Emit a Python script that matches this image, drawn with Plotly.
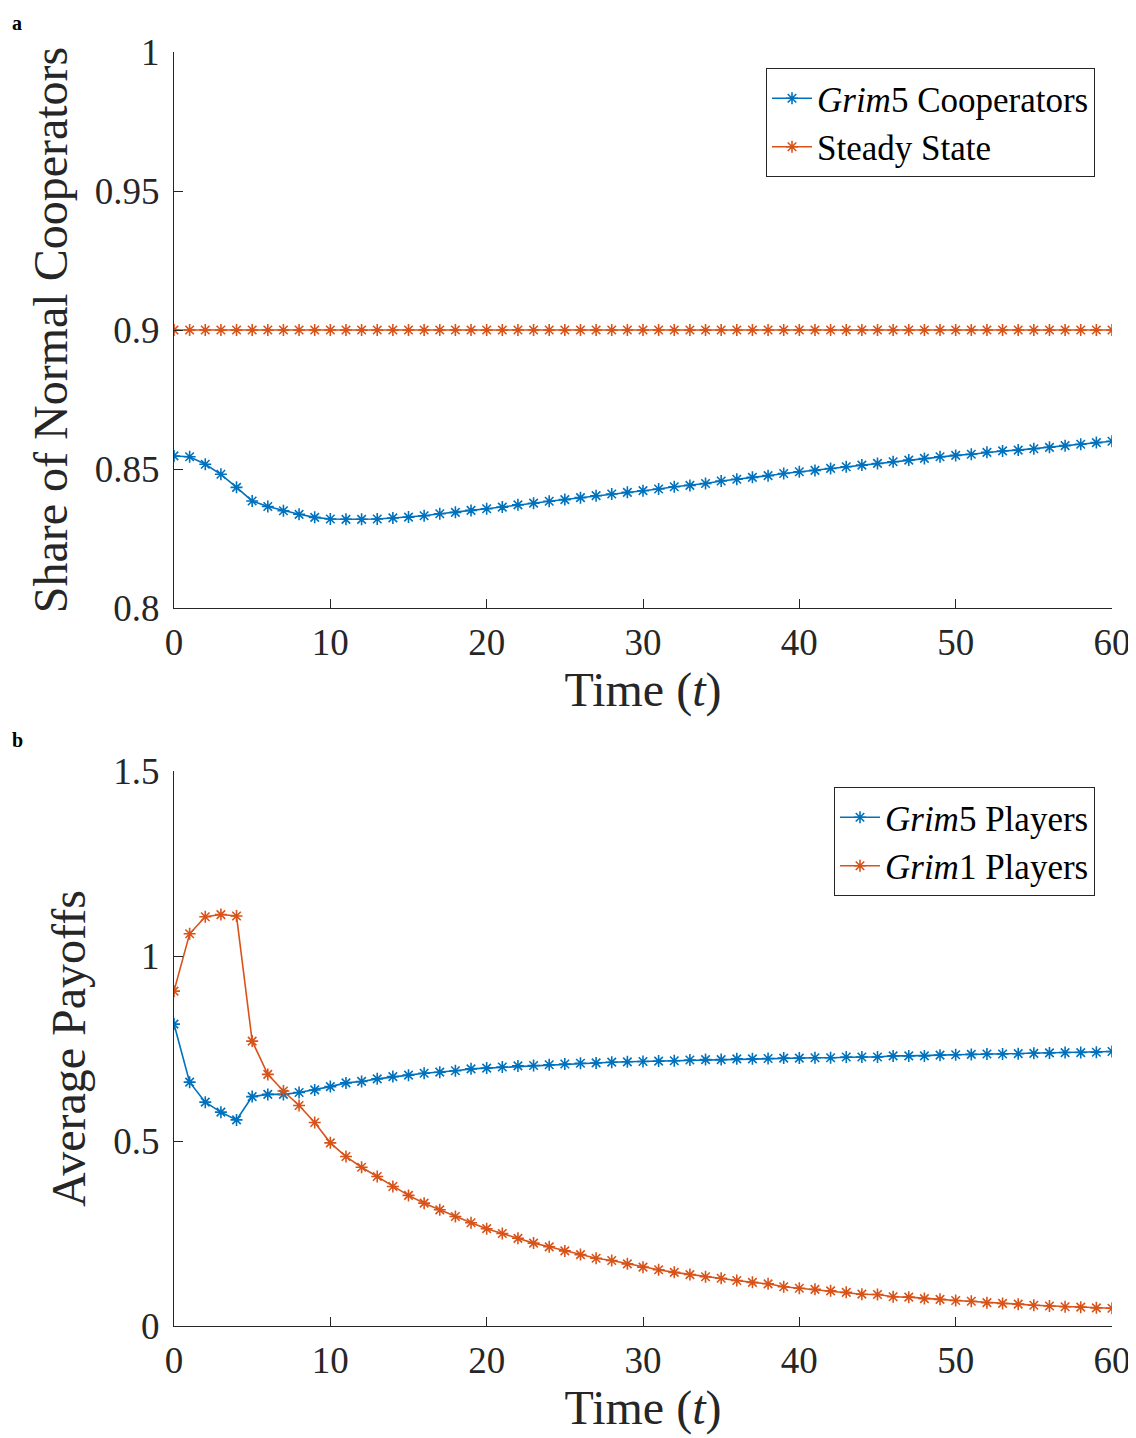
import plotly.graph_objects as go

t = list(range(61))

grim5_coop = [0.8547, 0.8544, 0.8517, 0.8481, 0.8434, 0.8385, 0.8365, 0.8350, 0.8337, 0.8326,
              0.8320, 0.8319, 0.8319, 0.8320, 0.8324, 0.8327, 0.8332, 0.8339, 0.8344, 0.8351,
              0.8357, 0.8363, 0.8371, 0.8377, 0.8384, 0.8390, 0.8397, 0.8404, 0.8410, 0.8416,
              0.8422, 0.8428, 0.8436, 0.8441, 0.8448, 0.8457, 0.8463, 0.8470, 0.8476, 0.8484,
              0.8490, 0.8495, 0.8502, 0.8508, 0.8514, 0.8520, 0.8526, 0.8532, 0.8538, 0.8544,
              0.8549, 0.8553, 0.8560, 0.8565, 0.8568, 0.8573, 0.8578, 0.8584, 0.8589, 0.8595,
              0.8600]
steady_state = [0.9] * 61

grim5_pay = [0.816, 0.659, 0.605, 0.578, 0.557, 0.620, 0.626, 0.626, 0.631, 0.638,
             0.647, 0.657, 0.661, 0.668, 0.674, 0.678, 0.683, 0.686, 0.690, 0.695,
             0.697, 0.700, 0.703, 0.704, 0.706, 0.708, 0.710, 0.711, 0.713, 0.714,
             0.715, 0.716, 0.717, 0.719, 0.720, 0.720, 0.722, 0.722, 0.723, 0.724,
             0.724, 0.725, 0.725, 0.727, 0.727, 0.727, 0.730, 0.730, 0.730, 0.732,
             0.733, 0.734, 0.735, 0.735, 0.736, 0.737, 0.738, 0.739, 0.739, 0.740,
             0.742]
grim1_pay = [0.905, 1.060, 1.106, 1.112, 1.108, 0.770, 0.680, 0.635, 0.596, 0.550,
             0.495, 0.458, 0.429, 0.404, 0.377, 0.353, 0.332, 0.314, 0.296, 0.279,
             0.263, 0.250, 0.237, 0.224, 0.214, 0.203, 0.193, 0.183, 0.177, 0.168,
             0.159, 0.152, 0.145, 0.139, 0.133, 0.129, 0.123, 0.118, 0.114, 0.106,
             0.102, 0.099, 0.095, 0.091, 0.086, 0.085, 0.079, 0.078, 0.074, 0.072,
             0.069, 0.067, 0.063, 0.061, 0.059, 0.056, 0.054, 0.052, 0.051, 0.049,
             0.048]

x_ticks = [0, 10, 20, 30, 40, 50, 60]
top_ticks = [0.8, 0.85, 0.9, 0.95, 1.0]
top_tick_labels = ["0.8", "0.85", "0.9", "0.95", "1"]
bot_ticks = [0, 0.5, 1, 1.5]
bot_tick_labels = ["0", "0.5", "1", "1.5"]

BLUE = "#0072BD"
ORANGE = "#D95319"
FONT = "Liberation Serif"
AXC = "#262626"

def mk(color):
    return dict(symbol="asterisk-open", size=10, line=dict(color=color, width=1.6), color=color)

fig = go.Figure()
fig.add_trace(go.Scatter(x=t, y=grim5_coop, mode="lines+markers", name="<i>Grim</i>5 Cooperators",
                         line=dict(color=BLUE, width=1.6), marker=mk(BLUE), xaxis="x", yaxis="y", legend="legend"))
fig.add_trace(go.Scatter(x=t, y=steady_state, mode="lines+markers", name="Steady State",
                         line=dict(color=ORANGE, width=1.6), marker=mk(ORANGE), xaxis="x", yaxis="y", legend="legend"))
fig.add_trace(go.Scatter(x=t, y=grim5_pay, mode="lines+markers", name="<i>Grim</i>5 Players",
                         line=dict(color=BLUE, width=1.6), marker=mk(BLUE), xaxis="x2", yaxis="y2", legend="legend2"))
fig.add_trace(go.Scatter(x=t, y=grim1_pay, mode="lines+markers", name="<i>Grim</i>1 Players",
                         line=dict(color=ORANGE, width=1.6), marker=mk(ORANGE), xaxis="x2", yaxis="y2", legend="legend2"))

axis_common = dict(showline=True, linecolor=AXC, linewidth=1, ticks="inside", ticklen=9,
                   tickcolor=AXC, tickwidth=1, showgrid=False, zeroline=False, mirror=False,
                   automargin=False, tickfont=dict(family=FONT, size=37, color=AXC))
title_font = dict(family=FONT, size=48, color=AXC)

# page has an 8px body margin; figure is sized so the plot areas land at the reference pixels
OFF = 8
W, H = 1136 - OFF, 1438 - OFF
ML, MR, MT, MB = 174 - OFF, 24, 52 - OFF, 112
PH = H - MT - MB
PW = W - ML - MR

def py(ypix):
    return (1326 - ypix) / PH

def px(xpix):
    return (xpix - 174) / PW

fig.update_layout(
    width=W, height=H,
    margin=dict(l=ML, r=MR, t=MT, b=MB, autoexpand=False),
    plot_bgcolor="white", paper_bgcolor="white",
    font=dict(family=FONT, color=AXC),
    xaxis=dict(domain=[0, 1], range=[0, 60], tickvals=x_ticks, anchor="y", ticklabelstandoff=2,
               title=dict(text="Time (<i>t</i>)", font=title_font, standoff=4), **axis_common),
    yaxis=dict(domain=[py(608), 1], range=[0.8, 1.0], tickvals=top_ticks, ticktext=top_tick_labels,
               anchor="x", ticklabelstandoff=6,
               title=dict(text="Share of Normal Cooperators", font=title_font, standoff=12),
               **axis_common),
    xaxis2=dict(domain=[0, 1], range=[0, 60], tickvals=x_ticks, anchor="y2", ticklabelstandoff=2,
                title=dict(text="Time (<i>t</i>)", font=title_font, standoff=4), **axis_common),
    yaxis2=dict(domain=[0, py(771)], range=[0, 1.5], tickvals=bot_ticks, ticktext=bot_tick_labels,
                anchor="x2", ticklabelstandoff=6,
                title=dict(text="Average Payoffs", font=title_font, standoff=12),
                **axis_common),
    legend=dict(x=px(1095), y=py(68), xanchor="right", yanchor="top",
                bordercolor=AXC, borderwidth=1, bgcolor="white",
                font=dict(family=FONT, size=35, color="black"), itemwidth=40, tracegroupgap=0),
    legend2=dict(x=px(1095), y=py(787), xanchor="right", yanchor="top",
                 bordercolor=AXC, borderwidth=1, bgcolor="white",
                 font=dict(family=FONT, size=35, color="black"), itemwidth=40, tracegroupgap=0),
    annotations=[
        dict(text="<b>a</b>", x=px(11), y=py(23), xref="paper", yref="paper",
             xanchor="left", yanchor="middle", showarrow=False, borderpad=0,
             font=dict(family=FONT, size=20, color="black")),
        dict(text="<b>b</b>", x=px(11), y=py(740), xref="paper", yref="paper",
             xanchor="left", yanchor="middle", showarrow=False, borderpad=0,
             font=dict(family=FONT, size=20, color="black")),
    ],
    showlegend=True,
)

fig.write_html("out.html")
